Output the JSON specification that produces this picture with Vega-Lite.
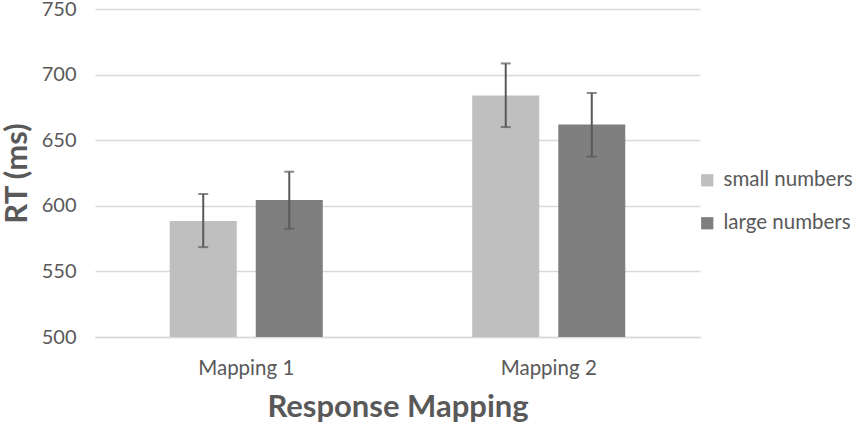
{
  "$schema": "https://vega.github.io/schema/vega-lite/v6.json",
  "autosize": {"type": "none"},
  "width": 605,
  "height": 328,
  "padding": {"left": 95, "top": 9, "right": 154, "bottom": 88},
  "background": "white",
  "config": {
    "font": "Lato",
    "view": {"stroke": null},
    "axis": {"labelColor": "#595959", "titleColor": "#595959", "labelFont": "Lato", "titleFont": "Lato"},
    "legend": {"labelColor": "#595959", "labelFont": "Lato"}
  },
  "data": {"values": [
    {"mapping": "Mapping 1", "numbers": "small numbers", "rt": 588.5, "lo": 568.5, "hi": 609},
    {"mapping": "Mapping 1", "numbers": "large numbers", "rt": 604.5, "lo": 582.5, "hi": 626},
    {"mapping": "Mapping 2", "numbers": "small numbers", "rt": 684, "lo": 660, "hi": 708.5},
    {"mapping": "Mapping 2", "numbers": "large numbers", "rt": 662, "lo": 637.5, "hi": 686}
  ]},
  "encoding": {
    "x": {
      "field": "mapping",
      "type": "nominal",
      "scale": {"paddingInner": 0.494, "paddingOuter": 0.247},
      "axis": {
        "title": "Response Mapping",
        "titleFontSize": 31,
        "titleFontWeight": "bold",
        "titlePadding": 14,
        "labelAngle": 0,
        "labelFontSize": 20.5,
        "labelPadding": 21,
        "ticks": false,
        "domainColor": "#d9d9d9",
        "domainWidth": 1.5
      }
    },
    "xOffset": {
      "field": "numbers",
      "sort": ["small numbers", "large numbers"],
      "scale": {"paddingInner": 0.221, "paddingOuter": 0}
    }
  },
  "layer": [
    {
      "mark": {"type": "bar"},
      "encoding": {
        "y": {
          "field": "rt",
          "type": "quantitative",
          "scale": {"domain": [500, 750], "zero": false, "nice": false},
          "axis": {
            "title": "RT (ms)",
            "titleFontSize": 31,
            "titleFontWeight": "bold",
            "titlePadding": 8,
            "values": [500, 550, 600, 650, 700, 750],
            "labelFontSize": 20,
            "labelPadding": 19,
            "ticks": false,
            "domain": false,
            "gridColor": "#d9d9d9",
            "gridWidth": 1.5
          }
        },
        "y2": {"datum": 500},
        "color": {
          "field": "numbers",
          "type": "nominal",
          "sort": ["small numbers", "large numbers"],
          "scale": {"domain": ["small numbers", "large numbers"], "range": ["#bfbfbf", "#7f7f7f"]},
          "legend": {
            "title": null,
            "orient": "none",
            "legendX": 602,
            "legendY": 161,
            "symbolType": "square",
            "symbolSize": 150,
            "symbolStrokeWidth": 0,
            "labelFontSize": 20.5,
            "rowPadding": 22,
            "labelOffset": 6
          }
        }
      }
    },
    {
      "mark": {"type": "rule", "color": "#595959", "strokeWidth": 2},
      "encoding": {
        "y": {"field": "lo", "type": "quantitative"},
        "y2": {"field": "hi"}
      }
    },
    {
      "mark": {"type": "tick", "orient": "horizontal", "color": "#595959", "size": 10, "thickness": 2},
      "encoding": {"y": {"field": "lo", "type": "quantitative"}}
    },
    {
      "mark": {"type": "tick", "orient": "horizontal", "color": "#595959", "size": 10, "thickness": 2},
      "encoding": {"y": {"field": "hi", "type": "quantitative"}}
    }
  ]
}
